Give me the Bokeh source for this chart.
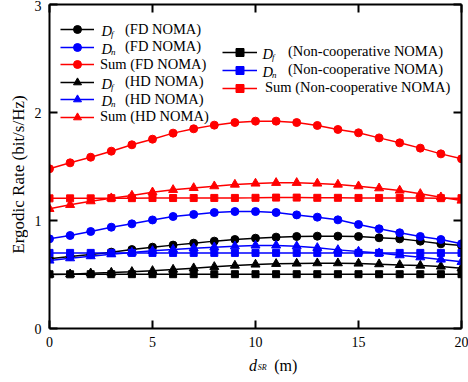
from bokeh.plotting import figure
from bokeh.layouts import row, column
from bokeh.models import Range1d, LinearAxis, Legend, LegendItem, Label, FixedTicker
from bokeh.embed import file_html
from bokeh.resources import INLINE
import math

# ---------------- data ----------------
d_sr = list(range(21))
x_ticks = [0, 5, 10, 15, 20]
y_ticks = [0, 1, 2, 3]

df_fd = [0.645, 0.667, 0.685, 0.707, 0.731, 0.753, 0.772, 0.790, 0.809, 0.824, 0.836,
         0.846, 0.852, 0.855, 0.855, 0.852, 0.840, 0.830, 0.809, 0.784, 0.769]
dn_fd = [0.830, 0.861, 0.898, 0.938, 0.969, 1.005, 1.037, 1.056, 1.074, 1.083, 1.083,
         1.074, 1.052, 1.031, 1.006, 0.963, 0.923, 0.886, 0.852, 0.824, 0.784]
sum_fd = [1.479, 1.534, 1.586, 1.642, 1.701, 1.753, 1.809, 1.849, 1.883, 1.907, 1.920,
          1.920, 1.907, 1.880, 1.843, 1.812, 1.765, 1.719, 1.670, 1.617, 1.571]
df_hd = [0.500, 0.503, 0.512, 0.518, 0.525, 0.534, 0.546, 0.559, 0.571, 0.583, 0.593,
         0.599, 0.602, 0.605, 0.605, 0.602, 0.596, 0.589, 0.583, 0.574, 0.559]
dn_hd = [0.630, 0.651, 0.670, 0.688, 0.704, 0.719, 0.731, 0.744, 0.753, 0.762, 0.769,
         0.769, 0.762, 0.747, 0.728, 0.713, 0.698, 0.679, 0.660, 0.639, 0.617]
sum_hd = [1.108, 1.145, 1.179, 1.207, 1.231, 1.262, 1.284, 1.302, 1.318, 1.333, 1.343,
          1.349, 1.349, 1.343, 1.333, 1.318, 1.299, 1.278, 1.247, 1.216, 1.185]
df_nc = [0.502, 0.502, 0.503, 0.503, 0.503, 0.503, 0.503, 0.503, 0.503, 0.503, 0.503,
         0.503, 0.503, 0.503, 0.503, 0.503, 0.503, 0.503, 0.503, 0.503, 0.503]
dn_nc = [0.700, 0.700, 0.700, 0.700, 0.700, 0.700, 0.700, 0.700, 0.700, 0.700, 0.700,
         0.700, 0.700, 0.700, 0.700, 0.700, 0.700, 0.700, 0.700, 0.700, 0.700]
sum_nc = [1.205, 1.205, 1.205, 1.207, 1.207, 1.208, 1.208, 1.208, 1.209, 1.209, 1.210,
          1.212, 1.212, 1.210, 1.210, 1.209, 1.209, 1.208, 1.208, 1.207, 1.207]

series = [
    # values, color, marker, subscript of D (None for "Sum"), legend text
    (df_fd, "black", "circle", "f", "(FD NOMA)"),
    (dn_fd, "blue", "circle", "n", "(FD NOMA)"),
    (sum_fd, "red", "circle", None, "Sum (FD NOMA)"),
    (df_hd, "black", "triangle", "f", "(HD NOMA)"),
    (dn_hd, "blue", "triangle", "n", "(HD NOMA)"),
    (sum_hd, "red", "triangle", None, "Sum (HD NOMA)"),
    (df_nc, "black", "square", "f", "(Non-cooperative NOMA)"),
    (dn_nc, "blue", "square", "n", "(Non-cooperative NOMA)"),
    (sum_nc, "red", "square", None, "Sum (Non-cooperative NOMA)"),
]
marker_size = {"circle": 8, "triangle": 9, "square": 7}

FONT = "Liberation Serif"
LEG_FS = "14.5px"

# overall canvas 468 x 382 : left strip (y label) + main plot + bottom strip (x label)
YL_W = 28
XL_H = 28
MAIN_W = 468 - YL_W
MAIN_H = 382 - XL_H
BL, BR, BT, BB = 21, 7, 4, 26
FRAME_LEFT = YL_W + BL          # canvas x of frame left (49)
FRAME_BOTTOM = MAIN_H - BB      # canvas y of frame bottom (328)

p = figure(width=MAIN_W, height=MAIN_H, output_backend="svg", toolbar_location=None,
           x_range=Range1d(0, 20), y_range=Range1d(0, 3),
           min_border_left=BL, min_border_right=BR, min_border_top=BT, min_border_bottom=BB)
p.outline_line_color = None
p.xgrid.visible = False
p.ygrid.visible = False
p.background_fill_color = "white"
p.border_fill_color = "white"


def style_axis(ax, ticks, show_labels=True):
    ax.ticker = FixedTicker(ticks=ticks)
    ax.axis_line_width = 2
    ax.axis_line_color = "black"
    ax.major_tick_in = 8
    ax.major_tick_out = 0
    ax.major_tick_line_width = 2
    ax.major_tick_line_color = "black"
    ax.minor_tick_line_color = None
    ax.major_label_text_font = FONT
    if show_labels:
        ax.major_label_text_font_size = "14px"
        ax.major_label_text_color = "black"
    else:
        ax.major_label_text_font_size = "0px"
        ax.major_label_text_color = None
        ax.major_label_standoff = 0


xa = p.below[0]
ya = p.left[0]
style_axis(xa, x_ticks)
style_axis(ya, y_ticks)
xa.major_label_standoff = 8
ya.major_label_standoff = 8

top = LinearAxis()
style_axis(top, x_ticks, show_labels=False)
right = LinearAxis()
style_axis(right, y_ticks, show_labels=False)
p.add_layout(top, "above")
p.add_layout(right, "right")

renderers = []
for vals, color, marker, sub, text in series:
    lr = p.line(d_sr, vals, line_color=color, line_width=1.5)
    sr = p.scatter(d_sr, vals, marker=marker, size=marker_size[marker],
                   fill_color=color, line_color=color)
    renderers.append((lr, sr))

# legends (one per entry so each can be placed precisely)
left_rows = [27.5 + 17.5 * i for i in range(6)]
right_rows = [50.0, 68.0, 86.0]
rows = [(60, 34, c) for c in left_rows] + [(222, 35, c) for c in right_rows]
GH = 20
SHIFT = 1.5   # legend box nudged down; its text renders slightly above the box centre
for (vals, color, marker, sub, text), (lr, sr), (gx, gw, c) in zip(series, renderers, rows):
    standoff = 31 if sub else (6 if gx < 100 else 8)
    leg = Legend(items=[LegendItem(label=text, renderers=[lr, sr])],
                 location=(gx - FRAME_LEFT, FRAME_BOTTOM - (c + SHIFT) - GH / 2),
                 padding=0, margin=0, spacing=0,
                 glyph_width=gw, glyph_height=GH, label_height=GH,
                 label_standoff=standoff,
                 label_text_font=FONT, label_text_font_size=LEG_FS,
                 label_text_color="black",
                 border_line_color=None, background_fill_alpha=0)
    p.add_layout(leg)
    if sub:
        dx = gx + gw + (7 if gx < 100 else 5)
        p.add_layout(Label(x=dx - FRAME_LEFT, y=FRAME_BOTTOM - (c + 3.4),
                           x_units="screen", y_units="screen",
                           text="D", text_font=FONT, text_font_size=LEG_FS,
                           text_font_style="italic", text_baseline="alphabetic",
                           text_color="black"))
        p.add_layout(Label(x=dx + 9.5 - FRAME_LEFT, y=FRAME_BOTTOM - (c + 6),
                           x_units="screen", y_units="screen",
                           text=sub, text_font=FONT, text_font_size="9px",
                           text_font_style="italic", text_baseline="alphabetic",
                           text_color="black"))


def strip(w, h):
    f = figure(width=w, height=h, output_backend="svg", toolbar_location=None,
               x_range=Range1d(0, w), y_range=Range1d(0, h), title=None,
               x_axis_location=None, y_axis_location=None, min_border=0)
    f.outline_line_color = None
    f.xgrid.visible = False
    f.ygrid.visible = False
    f.background_fill_color = "white"
    f.border_fill_color = "white"
    return f


# y-axis label strip
p_yl = strip(YL_W, 382)
p_yl.add_layout(Label(x=18, y=382 - 174, text="Ergodic Rate (bit/s/Hz)", angle=math.pi / 2,
                      text_font=FONT, text_font_size="17px", text_align="center",
                      text_baseline="middle", text_color="black"))

# x-axis label strip: d_SR (m)
p_xl = strip(MAIN_W, XL_H)
p_xl.add_layout(Label(x=241 - YL_W, y=382 - 365, text="d", text_font=FONT, text_font_size="16px",
                      text_font_style="italic", text_baseline="alphabetic", text_color="black"))
p_xl.add_layout(Label(x=250.5 - YL_W, y=382 - 367, text="SR", text_font=FONT, text_font_size="8px",
                      text_font_style="italic", text_baseline="alphabetic", text_color="black"))
p_xl.add_layout(Label(x=268 - YL_W, y=382 - 365, text="(m)", text_font=FONT, text_font_size="16px",
                      text_baseline="alphabetic", text_color="black"))

layout = row(p_yl, column(p, p_xl, spacing=0), spacing=0)
open("out.html", "w").write(file_html(layout, INLINE))
